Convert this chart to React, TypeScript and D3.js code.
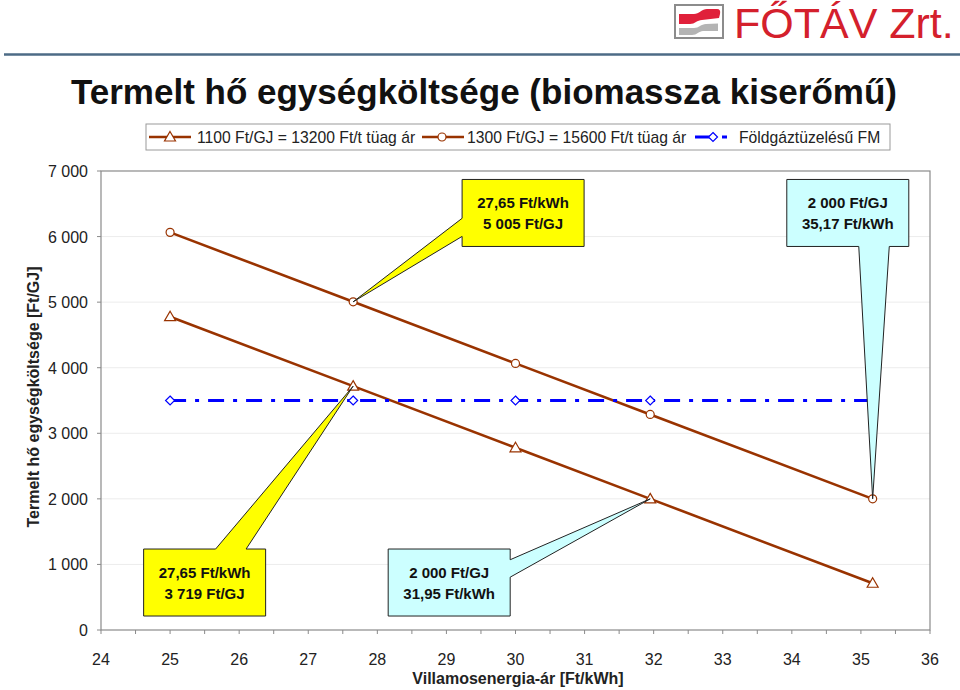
import { useEffect, useRef } from "react";
import * as d3 from "d3";

// x: villamosenergia-ár [Ft/kWh], y: termelt hő egységköltsége [Ft/GJ]
const priceKwh = [25, 27.65, 30, 31.95, 35.17];
const cost1100 = [4778, 3719, 2779, 2000, 713];
const cost1300 = [6064, 5005, 4066, 3287, 2000];
const costGasFM = [3500, 3500, 3500, 3500, 3500];

const seriesNames = [
  "1100 Ft/GJ = 13200 Ft/t tüag ár",
  "1300 Ft/GJ = 15600 Ft/t tüag ár",
  "Földgáztüzelésű FM",
];

const xTickValues = d3.range(24, 37, 1);
const xMinorTicks = d3.range(24, 36.01, 0.5);
const yTickValues = [0, 1000, 2000, 3000, 4000, 5000, 6000, 7000];

const title = "Termelt hő egységköltsége (biomassza kiserőmű)";
const xTitle = "Villamosenergia-ár [Ft/kWh]";
const yTitle = "Termelt hő egységköltsége [Ft/GJ]";

// callouts: tip on a data point, box centre given in data units
type Callout = {
  lines: string[];
  tip: [number, number];
  box: [number, number];
  fill: string;
  side: "left" | "right" | "top" | "bottom";
  at: [number, number];
};

const callouts: Callout[] = [
  { lines: ["27,65 Ft/kWh", "5 005 Ft/GJ"], tip: [27.65, 5005], box: [30.11, 6360], fill: "#ffff00", side: "left", at: [0.58, 0.85] },
  { lines: ["2 000 Ft/GJ", "35,17 Ft/kWh"], tip: [35.17, 2000], box: [34.81, 6360], fill: "#ccffff", side: "bottom", at: [0.59, 0.84] },
  { lines: ["27,65 Ft/kWh", "3 719 Ft/GJ"], tip: [27.65, 3719], box: [25.5, 724], fill: "#ffff00", side: "top", at: [0.59, 0.84] },
  { lines: ["2 000 Ft/GJ", "31,95 Ft/kWh"], tip: [31.95, 2000], box: [29.04, 724], fill: "#ccffff", side: "right", at: [0.16, 0.42] },
];

const brown = "#993300";
const blue = "#0000ff";
const font = "'Liberation Sans', Arial, sans-serif";

const huFormat = d3.formatLocale({
  decimal: ",",
  thousands: " ",
  grouping: [3],
  currency: ["", ""],
}).format(",");

function calloutPath(x0: number, y0: number, w: number, h: number, side: string, a: number, b: number, tx: number, ty: number) {
  const x1 = x0 + w;
  const y1 = y0 + h;
  let pts: [number, number][] = [];
  if (side === "top") {
    pts = [[x0, y0], [x0 + a * w, y0], [tx, ty], [x0 + b * w, y0], [x1, y0], [x1, y1], [x0, y1]];
  } else if (side === "right") {
    pts = [[x0, y0], [x1, y0], [x1, y0 + a * h], [tx, ty], [x1, y0 + b * h], [x1, y1], [x0, y1]];
  } else if (side === "bottom") {
    pts = [[x0, y0], [x1, y0], [x1, y1], [x0 + b * w, y1], [tx, ty], [x0 + a * w, y1], [x0, y1]];
  } else {
    pts = [[x0, y0], [x1, y0], [x1, y1], [x0, y1], [x0, y0 + b * h], [tx, ty], [x0, y0 + a * h]];
  }
  return "M" + pts.map((p) => p.join(",")).join("L") + "Z";
}

function drawMarker(g: any, kind: string, cx: number, cy: number) {
  if (kind === "triangle") {
    g.append("path")
      .attr("d", `M${cx},${cy - 5.5}L${cx + 5.5},${cy + 4}L${cx - 5.5},${cy + 4}Z`)
      .attr("fill", "#fff")
      .attr("stroke", brown)
      .attr("stroke-width", 1.2);
  } else if (kind === "circle") {
    g.append("circle")
      .attr("cx", cx)
      .attr("cy", cy)
      .attr("r", 4)
      .attr("fill", "#fff")
      .attr("stroke", brown)
      .attr("stroke-width", 1.2);
  } else {
    g.append("path")
      .attr("d", `M${cx},${cy - 4.5}L${cx + 4.5},${cy}L${cx},${cy + 4.5}L${cx - 4.5},${cy}Z`)
      .attr("fill", "#fff")
      .attr("stroke", blue)
      .attr("stroke-width", 1.2);
  }
}

export default function App() {
  const ref = useRef<SVGSVGElement | null>(null);

  useEffect(() => {
    if (!ref.current) return;
    const svg = d3.select(ref.current);
    svg.selectAll("*").remove();

    const width = 960;
    const height = 690;
    const plot = { left: 101, right: 930, top: 171, bottom: 630 };

    svg.append("rect").attr("width", width).attr("height", height).attr("fill", "#fff");

    // header: logo + separator
    const logo = svg.append("g");
    logo.append("rect")
      .attr("x", 675).attr("y", 5).attr("width", 48).attr("height", 33)
      .attr("fill", "#fff").attr("stroke", "#8c8c8c").attr("stroke-width", 2);
    logo.append("path")
      .attr("d", "M679,14L694,14C699,14 702,9 707,9L717,9Q721,9 720,14L719,18L702,20C697,20 695,24 690,24L679,24Z")
      .attr("fill", "#e0203a");
    logo.append("path")
      .attr("d", "M679,28L694,28C699,28 701,24 706,24L718,23.5L718,31L703,31C699,31 697,35 692,35L679,35Z")
      .attr("fill", "#b4b4b4");
    logo.append("text")
      .attr("x", 734).attr("y", 38)
      .attr("font-family", font).attr("font-size", 43)
      .attr("fill", "#d4202c")
      .text("FŐTÁV Zrt.");
    svg.append("line")
      .attr("x1", 4).attr("x2", 960).attr("y1", 54.5).attr("y2", 54.5)
      .attr("stroke", "#4d6b86").attr("stroke-width", 2.5);

    svg.append("text")
      .attr("x", 484).attr("y", 104)
      .attr("text-anchor", "middle")
      .attr("font-family", font).attr("font-size", 35).attr("font-weight", "bold")
      .attr("fill", "#111")
      .text(title);

    const x = d3.scaleLinear().domain([24, 36]).range([plot.left, plot.right]);
    const y = d3.scaleLinear().domain([0, 7000]).range([plot.bottom, plot.top]);

    // gridlines
    svg.append("g")
      .selectAll("line")
      .data(yTickValues.slice(1, -1))
      .join("line")
      .attr("x1", plot.left).attr("x2", plot.right)
      .attr("y1", (d) => y(d)).attr("y2", (d) => y(d))
      .attr("stroke", "#ececec").attr("stroke-width", 1);

    // plot frame
    svg.append("rect")
      .attr("x", plot.left).attr("y", plot.top)
      .attr("width", plot.right - plot.left).attr("height", plot.bottom - plot.top)
      .attr("fill", "none").attr("stroke", "#8a8a8a").attr("stroke-width", 1.2);

    // y axis ticks + labels
    const yAxis = svg.append("g");
    yAxis.selectAll("line")
      .data(yTickValues)
      .join("line")
      .attr("x1", plot.left - 4).attr("x2", plot.left)
      .attr("y1", (d) => y(d)).attr("y2", (d) => y(d))
      .attr("stroke", "#8a8a8a");
    yAxis.selectAll("text")
      .data(yTickValues)
      .join("text")
      .attr("x", 88).attr("y", (d) => y(d) + 6)
      .attr("text-anchor", "end")
      .attr("font-family", font).attr("font-size", 16).attr("fill", "#222")
      .text((d) => huFormat(d));

    // x axis ticks + labels
    const xAxis = svg.append("g");
    xAxis.selectAll("line")
      .data(xMinorTicks)
      .join("line")
      .attr("x1", (d) => x(d)).attr("x2", (d) => x(d))
      .attr("y1", plot.bottom).attr("y2", plot.bottom + 4)
      .attr("stroke", "#8a8a8a");
    xAxis.selectAll("text")
      .data(xTickValues)
      .join("text")
      .attr("x", (d) => x(d)).attr("y", 665)
      .attr("text-anchor", "middle")
      .attr("font-family", font).attr("font-size", 16).attr("fill", "#222")
      .text((d) => String(d));

    svg.append("text")
      .attr("x", 518).attr("y", 684)
      .attr("text-anchor", "middle")
      .attr("font-family", font).attr("font-size", 16).attr("font-weight", "bold")
      .attr("fill", "#222")
      .text(xTitle);
    svg.append("text")
      .attr("transform", "translate(39,397) rotate(-90)")
      .attr("text-anchor", "middle")
      .attr("font-family", font).attr("font-size", 16).attr("font-weight", "bold")
      .attr("fill", "#222")
      .text(yTitle);

    // series
    const line = d3.line<[number, number]>().x((d) => x(d[0])).y((d) => y(d[1]));
    const series = [
      { values: cost1100, color: brown, dash: null, marker: "triangle", width: 2.6 },
      { values: cost1300, color: brown, dash: null, marker: "circle", width: 2.6 },
      { values: costGasFM, color: blue, dash: "16,9,4,9", marker: "diamond", width: 3 },
    ];
    const lines = svg.append("g");
    const markers = svg.append("g");
    series.forEach((s) => {
      const pts = priceKwh.map((p, i) => [p, s.values[i]] as [number, number]);
      lines.append("path")
        .attr("d", line(pts))
        .attr("fill", "none")
        .attr("stroke", s.color)
        .attr("stroke-width", s.width)
        .attr("stroke-dasharray", s.dash);
      pts.forEach((p) => drawMarker(markers, s.marker, x(p[0]), y(p[1])));
    });

    // callouts
    const boxW = 122;
    const boxH = 67;
    const notes = svg.append("g");
    callouts.forEach((c) => {
      const cx = x(c.box[0]);
      const cy = y(c.box[1]);
      const x0 = cx - boxW / 2;
      const y0 = cy - boxH / 2;
      notes.append("path")
        .attr("d", calloutPath(x0, y0, boxW, boxH, c.side, c.at[0], c.at[1], x(c.tip[0]), y(c.tip[1])))
        .attr("fill", c.fill)
        .attr("stroke", "#222")
        .attr("stroke-width", 1);
      c.lines.forEach((t, i) => {
        notes.append("text")
          .attr("x", cx).attr("y", cy - 5 + i * 21)
          .attr("text-anchor", "middle")
          .attr("font-family", font).attr("font-size", 15).attr("font-weight", "bold")
          .attr("fill", "#111")
          .text(t);
      });
    });

    // legend
    const legend = svg.append("g");
    legend.append("rect")
      .attr("x", 146).attr("y", 124).attr("width", 744).attr("height", 26)
      .attr("fill", "#fff").attr("stroke", "#9a9a9a").attr("stroke-width", 1);
    const legendItems = [
      { x0: 149, x1: 191, mx: 170, tx: 197, s: series[0], dash: null },
      { x0: 422, x1: 464, mx: 442, tx: 467, s: series[1], dash: null },
      { x0: 695, x1: 728, mx: 713, tx: 739, s: series[2], dash: "17,10,5,10" },
    ];
    legendItems.forEach((it, i) => {
      legend.append("line")
        .attr("x1", it.x0).attr("x2", it.x1)
        .attr("y1", 137).attr("y2", 137)
        .attr("stroke", it.s.color)
        .attr("stroke-width", it.s.width)
        .attr("stroke-dasharray", it.dash);
      drawMarker(legend, it.s.marker, it.mx, 137);
      legend.append("text")
        .attr("x", it.tx).attr("y", 143)
        .attr("font-family", font).attr("font-size", 15.7).attr("fill", "#222")
        .text(seriesNames[i]);
    });
  }, []);

  return (
    <svg
      ref={ref}
      width={960}
      height={690}
      style={{ position: "absolute", left: 0, top: 0 }}
    />
  );
}
